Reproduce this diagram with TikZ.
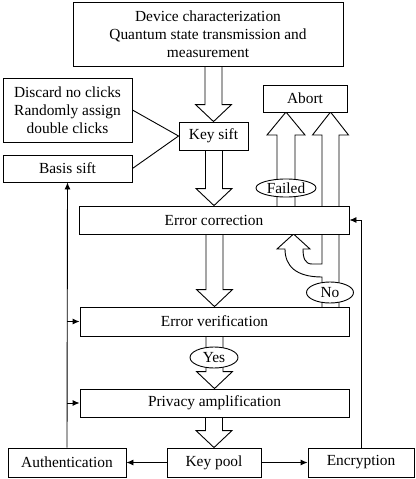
\documentclass[tikz,border=0pt]{standalone}
\usepackage{fontspec}
\setmainfont{Liberation Serif}
\usetikzlibrary{arrows.meta,calc,backgrounds,shapes.geometric}
\newcommand{\qkdfont}{\fontsize{15.4pt}{18pt}\selectfont}
\tikzset{
  box/.style={draw, fill=white, line width=0.9pt, inner sep=0pt, align=center, font=\qkdfont},
  tag/.style={draw, fill=white, ellipse, line width=0.9pt, inner sep=0pt, font=\qkdfont},
  fat/.style={line width=0.9pt},
  wire/.style={line width=0.9pt},
  tip/.style={-{Latex[length=7pt,width=6pt]}}
}
% block arrow from the bottom of #1 down to the top of #2
\newcommand{\fatdown}[2]{%
  \draw[fat] let \p1=(#1.south), \p2=(#2.north) in
    (\x2-8.5pt,\y1) -- (\x2-8.5pt,\y2+17pt) -- (\x2-18pt,\y2+17pt) -- (\x2,\y2)
    -- (\x2+18pt,\y2+17pt) -- (\x2+8.5pt,\y2+17pt) -- (\x2+8.5pt,\y1);}
\begin{document}
\begin{tikzpicture}[x=1pt, y=-1pt]
      \useasboundingbox (0,0) rectangle (415,479);
      %
      \node[box, minimum width=270pt, minimum height=64pt] (dev) at (208,34)
        {Device characterization\\Quantum state transmission and\\measurement};
      \node[box, minimum width=129pt, minimum height=64pt] (discard) at (67.5,110)
        {Discard no clicks\\Randomly assign\\double clicks};
      \node[box, minimum width=129pt, minimum height=27pt] (basis) at (67.5,168.5) {Basis sift};
      \node[box, minimum width=69pt, minimum height=28pt] (sift) at (213.5,136) {Key sift};
      \node[box, minimum width=84pt, minimum height=27pt] (abort) at (305,98.5) {Abort};
      %
      \node[box, minimum width=270pt, minimum height=28pt] (ec) at (214,220) {Error correction};
      \node[box, minimum width=269pt, minimum height=29pt] (ev) at (214.5,321.5) {Error verification};
      \node[box, minimum width=269pt, minimum height=28pt] (pa) at (214.5,403) {Privacy amplification};
      %
      \node[box, minimum width=118pt, minimum height=29pt] (auth) at (67,462.5) {Authentication};
      \node[box, minimum width=94pt, minimum height=29pt] (pool) at (214,462.5) {Key pool};
      \node[box, minimum width=106pt, minimum height=29pt] (enc) at (361,462.5) {Encryption};
      %
      \node[tag, minimum width=60pt, minimum height=18pt] (failed) at (286,188) {Failed};
      \node[tag, minimum width=47pt, minimum height=21pt] (no) at (330,292.5) {No};
      \node[tag, minimum width=48pt, minimum height=21pt] (yes) at (214,357.5) {Yes};
      %
      \begin{pgfonlayer}{background}
        \fatdown{dev}{sift}
        \fatdown{sift}{ec}
        \fatdown{ec}{ev}
        \fatdown{ev}{pa}
        \fatdown{pa}{pool}
        %
        \draw[fat] (277,206) -- (277,135) -- (267,135) -- (286,112) -- (305,135) -- (295,135) -- (295,206);
        \draw[fat] (339,307) -- (339,135) -- (348.5,135) -- (330.5,112) -- (312.5,135) -- (322,135)
          -- (322,264) -- (312,264) .. controls (305,264) and (303,258) .. (303,249)
          -- (310,249) -- (293.5,234) -- (277,249) -- (285,249)
          .. controls (285,266) and (296,277) .. (322,277) -- (322,307);
      \end{pgfonlayer}
      %
      \draw[wire] (discard.east) -- (sift.west);
      \draw[wire] (basis.east) -- (sift.west);
      \draw[wire, tip] (auth.north) -- (basis.south);
      \draw[wire, tip] (auth.north |- ev.west) -- (ev.west);
      \draw[wire, tip] (auth.north |- pa.west) -- (pa.west);
      \draw[wire, tip] (enc.north) |- (ec.east);
      \draw[wire, tip] (pool.west) -- (auth.east);
      \draw[wire, tip] (pool.east) -- (enc.west);
      %
    \end{tikzpicture}
\end{document}
